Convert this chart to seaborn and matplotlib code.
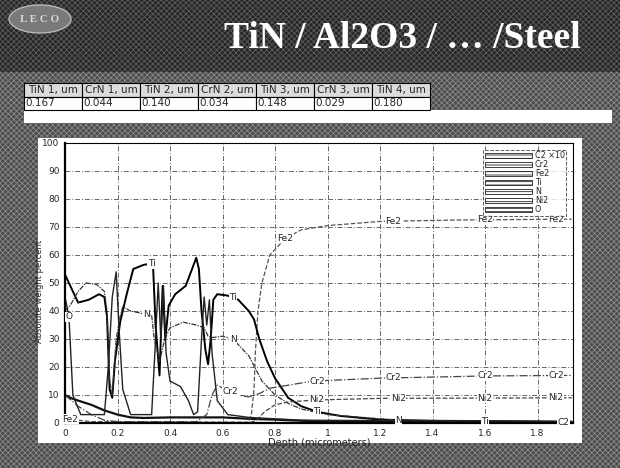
import numpy as np
import pandas as pd
import seaborn as sns
import matplotlib.pyplot as plt
from matplotlib.patches import Rectangle, Ellipse, Patch

title = "TiN / Al2O3 / … /Steel"
layer_names = ["TiN 1, um", "CrN 1, um", "TiN 2, um", "CrN 2, um", "TiN 3, um", "CrN 3, um", "TiN 4, um"]
layer_thick = ["0.167", "0.044", "0.140", "0.034", "0.148", "0.029", "0.180"]

# depth (um) / weight percent
ti_x = [0, 0.03, 0.05, 0.09, 0.13, 0.15, 0.16, 0.17, 0.18, 0.19, 0.21, 0.235, 0.26, 0.3, 0.335, 0.345,
        0.36, 0.372, 0.382, 0.395, 0.42, 0.46, 0.48, 0.5, 0.51, 0.52, 0.535, 0.545, 0.555, 0.565, 0.58,
        0.62, 0.66, 0.7, 0.72, 0.74, 0.77, 0.8, 0.85, 0.9, 0.96, 1.05, 1.2, 1.4, 1.93]
ti_y = [53, 47, 43, 44, 46, 45, 38, 12, 9, 22, 36, 46, 55, 56.5, 57, 35,
        17, 49, 30, 42, 46, 49, 54, 59, 55, 40, 26, 21, 30, 44, 46,
        45.5, 44, 40, 37, 30, 22, 16, 9, 6, 4, 2.5, 1.2, 0.8, 0.5]

n_x = [0, 0.02, 0.05, 0.08, 0.12, 0.15, 0.16, 0.17, 0.18, 0.195, 0.21, 0.22, 0.25, 0.3, 0.33, 0.34,
       0.36, 0.38, 0.4, 0.45, 0.5, 0.53, 0.545, 0.56, 0.6, 0.64, 0.7, 0.75, 0.8, 0.85, 0.9, 1.0, 1.27, 1.93]
n_y = [40, 42, 47, 50, 49.5, 47, 40, 15, 10, 30, 38, 41.5, 40, 39, 38.5, 30,
       22, 30, 34, 36, 35, 34, 31, 30.5, 31, 30, 24, 15, 10, 7, 5, 3, 1, 0.3]

o_x = [0, 0.015, 0.03, 0.06, 0.15, 0.165, 0.18, 0.195, 0.205, 0.22, 0.25, 0.33, 0.345, 0.355, 0.365,
       0.375, 0.385, 0.4, 0.44, 0.47, 0.49, 0.505, 0.52, 0.53, 0.54, 0.55, 0.56, 0.58, 0.62, 0.7, 0.9, 1.93]
o_y = [45, 38, 10, 3, 3, 20, 45, 54, 35, 12, 3, 3, 30, 50, 30,
       49, 25, 15, 13, 8, 3, 4, 30, 45, 35, 44, 25, 8, 3, 2, 1, 0.5]

c2_x = [0, 0.02, 0.05, 0.1, 0.15, 0.2, 0.25, 0.3, 0.4, 0.5, 0.6, 0.7, 0.8, 0.9, 1.0, 1.93]
c2_y = [10, 9, 8, 6.5, 4.5, 3, 2, 1.8, 2, 2, 2, 1.5, 1.2, 0.8, 0.5, 0.3]

fe_x = [0, 0.1, 0.7, 0.71, 0.72, 0.725, 0.735, 0.75, 0.78, 0.84, 0.9, 1.0, 1.2, 1.5, 1.93]
fe_y = [1.5, 0.5, 0.3, 3, 12, 25, 40, 50, 60, 66, 69, 70.5, 72, 72.5, 72.8]

cr_x = [0, 0.05, 0.1, 0.15, 0.2, 0.5, 0.54, 0.56, 0.58, 0.62, 0.66, 0.7, 0.74, 0.78, 0.85, 0.92,
        1.0, 1.2, 1.6, 1.93]
cr_y = [10, 6, 3, 1, 0.5, 0.5, 3, 10, 13.5, 11.5, 10, 9.3, 10.5, 12.4, 13.5, 14.6,
        15.2, 16, 16.8, 17]

ni_x = [0, 0.7, 0.73, 0.76, 0.8, 0.85, 0.95, 1.2, 1.93]
ni_y = [0, 0, 1, 4, 6.5, 7.5, 8.2, 8.8, 9]

curves = {
    "C2 ×10": (c2_x, c2_y), "Cr2": (cr_x, cr_y), "Fe2": (fe_x, fe_y), "Ti": (ti_x, ti_y),
    "N": (n_x, n_y), "Ni2": (ni_x, ni_y), "O": (o_x, o_y),
}
styles = {
    "C2 ×10": dict(color="#111111", lw=1.6, ls="-"),
    "Cr2": dict(color="#444444", lw=0.9, ls="-."),
    "Fe2": dict(color="#555555", lw=0.9, ls="--"),
    "Ti": dict(color="#000000", lw=1.4, ls="-"),
    "N": dict(color="#333333", lw=0.9, ls=(0, (4, 1, 1, 1))),
    "Ni2": dict(color="#444444", lw=0.9, ls="--"),
    "O": dict(color="#222222", lw=1.0, ls="-"),
}
# where the software printed the element name on its curve
label_depths = {
    "Fe2": [0.02, 0.84, 1.25, 1.6, 1.87], "Cr2": [0.63, 0.96, 1.25, 1.6, 1.87],
    "Ni2": [0.96, 1.27, 1.6, 1.87], "Ti": [0.33, 0.64, 0.96, 1.6],
    "N": [0.31, 0.64, 1.27], "O": [0.015], "C2 ×10": [1.9],
}

df = pd.concat([pd.DataFrame({"depth": x, "value": y, "element": k}) for k, (x, y) in curves.items()])

sns.set_style("white")
plt.rcParams["font.family"] = ["DejaVu Sans"]
plt.rcParams["hatch.linewidth"] = 0.6

W, H = 620, 468
fig = plt.figure(figsize=(W / 100, H / 100), dpi=100)

def box(x0, y0, x1, y1, **kw):
    fig.patches.append(Rectangle((x0 / W, 1 - y1 / H), (x1 - x0) / W, (y1 - y0) / H,
                                 transform=fig.transFigure, figure=fig, **kw))

# textured scan background
box(0, 0, W, H, facecolor="#4c4c4c", edgecolor="#8a8a8a", hatch="xxxxxx", lw=0, zorder=-10)
box(0, 0, W, 72, facecolor="#262626", edgecolor="#5c5c5c", hatch="xxxxxx", lw=0, zorder=-9)

# logo
logo = Ellipse((40 / W, 1 - 19 / H), 62 / W, 28 / H, transform=fig.transFigure,
               facecolor="#7a7a7a", edgecolor="#b8b8b8", lw=1.0, zorder=-5)
fig.patches.append(logo)
fig.text(40 / W, 1 - 19 / H, "L E C O", ha="center", va="center", color="#d8d8d8",
         fontsize=8, family="Liberation Serif", fontweight="bold")

fig.text(402 / W, 1 - 39 / H, title, ha="center", va="center", color="white",
         fontsize=27, family="Liberation Serif", fontweight="bold")

# layer thickness table
tax = fig.add_axes([24 / W, 1 - 110 / H, 406 / W, 27 / H])
tax.axis("off")
tbl = tax.table(cellText=[layer_thick], colLabels=layer_names, cellLoc="left", bbox=[0, 0, 1, 1])
tbl.auto_set_font_size(False)
for (r, c), cell in tbl.get_celld().items():
    cell.set_fontsize(7.5)
    cell.set_linewidth(0.8)
    cell.set_edgecolor("black")
    cell.set_facecolor("#dcdcdc" if r == 0 else "white")
    cell.PAD = 0.03

box(24, 110, 612, 123, facecolor="white", lw=0, zorder=-4)
box(38, 138, 582, 443, facecolor="white", lw=0, zorder=-4)

ax = fig.add_axes([65 / W, 1 - 423 / H, 508 / W, 280 / H])
for el in curves:
    sub = df[df["element"] == el]
    st = styles[el]
    sns.lineplot(data=sub, x="depth", y="value", ax=ax, color=st["color"], linewidth=st["lw"],
                 linestyle=st["ls"], legend=False, estimator=None, sort=False)
    x, y = curves[el]
    for d in label_depths.get(el, []):
        ax.text(d, np.interp(d, x, y), el.split(" ")[0], fontsize=6.5, ha="center", va="center",
                color="#222222", bbox=dict(facecolor="white", edgecolor="none", pad=0.3))

ax.set_xlim(0, 1.935)
ax.set_ylim(0, 100)
ax.set_xticks(np.arange(0, 1.81, 0.2))
ax.set_xticklabels(["0", "0.2", "0.4", "0.6", "0.8", "1", "1.2", "1.4", "1.6", "1.8"])
ax.set_yticks(np.arange(0, 101, 10))
ax.tick_params(length=0, labelsize=6.5, pad=4)
ax.grid(True, color="#666666", lw=0.7, ls=(0, (5, 2, 1, 2)))
for s in ax.spines.values():
    s.set_color("black")
    s.set_linewidth(0.8)
ax.spines["left"].set_linewidth(1.6)
ax.spines["bottom"].set_linewidth(1.6)
ax.set_xlabel("Depth (micrometers)", fontsize=7, labelpad=0)
ax.set_ylabel("Absolute weight percent", fontsize=6, labelpad=0)
ax.yaxis.set_label_coords(-0.041, 0.47)

handles = [Patch(facecolor="white", edgecolor="#222222", hatch="-----", lw=0.6) for _ in curves]
leg = ax.legend(handles, list(curves), loc="upper right", bbox_to_anchor=(0.995, 0.99),
                fontsize=5.8, handlelength=5.8, handleheight=0.65, labelspacing=0.0,
                borderpad=0.2, handletextpad=0.4, frameon=True, fancybox=False)
leg.get_frame().set_edgecolor("#333333")
leg.get_frame().set_linestyle("--")
leg.get_frame().set_linewidth(0.7)

fig.savefig("out.png", dpi=100)
